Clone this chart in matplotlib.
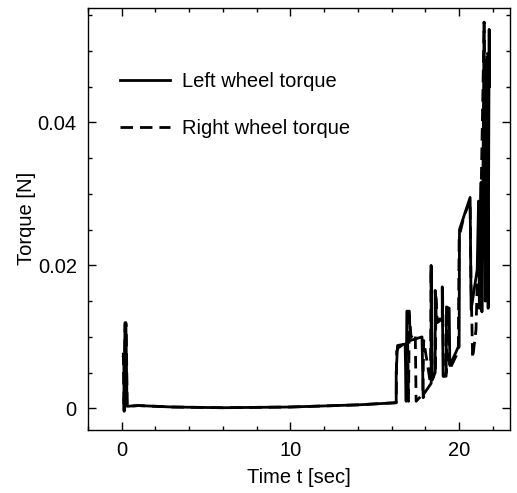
"""
Wheel torque over time, left vs right wheel.
"""

import matplotlib
matplotlib.use("Agg")
import matplotlib.pyplot as plt
from matplotlib.ticker import MultipleLocator, FuncFormatter

plt.rcParams["font.family"] = ["Liberation Sans", "DejaVu Sans"]
plt.rcParams["font.size"] = 14.5

# ── data ──
t_left = [0.10, 0.13, 0.15, 0.20, 0.25, 0.32, 1.0, 3.0, 6.0, 10.0, 14.0,
          16.27, 16.27, 16.35, 16.80, 16.86, 16.90, 17.05, 17.10, 17.80,
          17.87, 17.90, 18.34, 18.34, 18.40, 18.58, 18.58, 18.65, 19.00,
          19.00, 19.05, 19.23, 19.25, 19.41, 19.45, 19.95, 20.00, 20.02,
          20.65, 20.71, 21.07, 21.15, 21.20, 21.30, 21.35, 21.48, 21.55,
          21.65, 21.72, 21.78, 21.80]
torque_left = [0.0072, 0.0070, -0.0004, 0.0120, 0.0120, 0.0003, 0.0004,
               0.0002, 0.0001, 0.0002, 0.0005, 0.0008, 0.0050, 0.0088,
               0.0090, 0.0010, 0.0136, 0.0136, 0.0095, 0.0100, 0.0015,
               0.0020, 0.0035, 0.0200, 0.0040, 0.0050, 0.0165, 0.0125,
               0.0125, 0.0170, 0.0045, 0.0045, 0.0142, 0.0140, 0.0060,
               0.0086, 0.0086, 0.0250, 0.0295, 0.0138, 0.0194, 0.0290,
               0.0140, 0.0316, 0.0135, 0.0540, 0.0150, 0.0480, 0.0140,
               0.0530, 0.0450]

t_right = [0.10, 0.14, 0.20, 0.27, 0.33, 1.0, 3.0, 6.0, 10.0, 14.0, 16.27,
           16.30, 16.40, 16.95, 17.00, 17.05, 17.15, 17.40, 17.45, 17.85,
           17.90, 18.30, 18.34, 18.40, 18.60, 18.62, 18.70, 19.00, 19.02,
           19.08, 19.25, 19.28, 19.45, 19.95, 20.00, 20.30, 20.65, 20.70,
           20.80, 21.00, 21.10, 21.30, 21.48, 21.55, 21.65, 21.80]
torque_right = [0.0078, -0.0003, 0.0118, 0.0118, 0.0003, 0.0004, 0.0002,
                0.0001, 0.0002, 0.0005, 0.0008, 0.0080, 0.0085, 0.0093,
                0.0010, 0.0130, 0.0100, 0.0105, 0.0010, 0.0020, 0.0095,
                0.0035, 0.0195, 0.0040, 0.0050, 0.0160, 0.0120, 0.0125,
                0.0160, 0.0045, 0.0050, 0.0140, 0.0055, 0.0080, 0.0240,
                0.0270, 0.0290, 0.0180, 0.0070, 0.0110, 0.0200, 0.0300,
                0.0540, 0.0400, 0.0500, 0.0480]

fig = plt.figure(figsize=(5.17, 4.93), dpi=100)
ax = fig.add_axes([0.170, 0.128, 0.816, 0.856])

ax.plot(t_left, torque_left, color="black", linewidth=2.0,
        label="Left wheel torque")
ax.plot(t_right, torque_right, color="black", linewidth=2.0,
        linestyle=(0, (4.5, 2.5)), label="Right wheel torque")

ax.set_xlim(-2, 23)
ax.set_ylim(-0.003, 0.056)
ax.xaxis.set_major_locator(MultipleLocator(10))
ax.xaxis.set_minor_locator(MultipleLocator(2))
ax.yaxis.set_major_locator(MultipleLocator(0.02))
ax.yaxis.set_minor_locator(MultipleLocator(0.005))
ax.yaxis.set_major_formatter(FuncFormatter(lambda v, _: f"{v:g}"))
ax.tick_params(which="both", direction="in", top=True, right=True,
               width=1, labelsize=14.5)
ax.tick_params(which="major", length=6, pad=8)
ax.tick_params(which="minor", length=3)
for s in ax.spines.values():
    s.set_linewidth(1)

ax.set_xlabel("Time t [sec]", fontsize=14.5, labelpad=6)
ax.set_ylabel("Torque [N]", fontsize=14.5, labelpad=1)

ax.legend(loc="upper left", bbox_to_anchor=(0.057, 0.868), frameon=False,
          borderaxespad=0, labelspacing=1.4, handlelength=2.5,
          handletextpad=0.6)

plt.savefig("out.png", dpi=100)
plt.close()
